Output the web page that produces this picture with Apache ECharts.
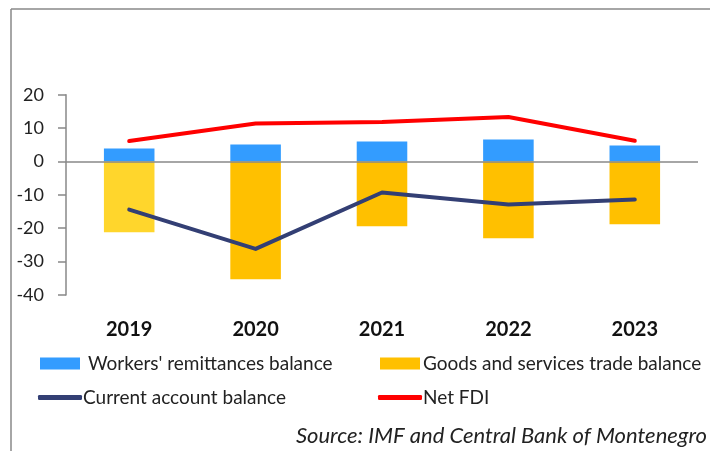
<!DOCTYPE html>
<html>
<head>
<meta charset="utf-8">
<script src="https://cdn.jsdelivr.net/npm/echarts@6/dist/echarts.min.js"></script>
<style>
  html, body { margin: 0; padding: 0; background: #fff; }
  #chart { width: 710px; height: 451px; }
</style>
</head>
<body>
<div id="chart"></div>
<script>
// values (% of GDP)
const years = ['2019', '2020', '2021', '2022', '2023']
const remittances = [3.9, 5.1, 6.0, 6.6, 4.8]
const goodsTrade = [-21.2, -35.3, -19.4, -23.0, -18.8]
const currentAccount = [-14.4, -26.2, -9.3, -12.9, -11.4]
const netFdi = [6.1, 11.4, 11.8, 13.3, 6.2]
const yTicks = { min: -40, max: 20, interval: 10 }

const font = 'Lato'
const chart = echarts.init(document.getElementById('chart'))

// first year's goods bar is a lighter yellow in the original
const goodsData = goodsTrade.map((v, i) => i === 0
  ? { value: v, itemStyle: { color: '#FFD62C' } }
  : v)

const legendBase = {
  orient: 'horizontal',
  padding: 0,
  itemGap: 0,
  textStyle: { fontFamily: font, fontSize: 19, color: '#222' }
}
const legendText = (pad) => Object.assign({}, legendBase.textStyle, { padding: pad })

const option = {
  animation: false,
  backgroundColor: '#fff',
  grid: { left: 66, right: 12, top: 94.7, bottom: 156 },
  xAxis: {
    type: 'category',
    data: years,
    axisLine: { show: false, onZero: false },
    axisTick: { show: false },
    axisLabel: { margin: 25, fontFamily: font, fontSize: 20, fontWeight: 'bold', color: '#111' }
  },
  yAxis: {
    type: 'value',
    min: yTicks.min,
    max: yTicks.max,
    interval: yTicks.interval,
    axisLine: { show: true, lineStyle: { color: '#888', width: 1.5 } },
    axisTick: { show: true, length: 8, lineStyle: { color: '#888', width: 1.5 } },
    axisLabel: { margin: 22, fontFamily: font, fontSize: 18, color: '#222' },
    splitLine: { show: false }
  },
  legend: [
    Object.assign({}, legendBase, {
      left: 40, top: 354, itemWidth: 40, itemHeight: 12,
      data: [{ name: "Workers' remittances balance", icon: 'rect' }],
      textStyle: legendText([14, 0, 0, 3])
    }),
    Object.assign({}, legendBase, {
      left: 380, top: 354, itemWidth: 40, itemHeight: 12,
      data: [{ name: 'Goods and services trade balance', icon: 'rect' }],
      textStyle: legendText([14, 0, 0, -2])
    }),
    Object.assign({}, legendBase, {
      left: 38, top: 388, itemWidth: 44, itemHeight: 5,
      data: [{ name: 'Current account balance', icon: 'roundRect' }],
      textStyle: legendText([16, 0, 0, -4])
    }),
    Object.assign({}, legendBase, {
      left: 378, top: 388, itemWidth: 44, itemHeight: 5,
      data: [{ name: 'Net FDI', icon: 'roundRect' }],
      textStyle: legendText([16, 0, 0, -4])
    })
  ],
  graphic: [
    // outer frame (top and left edges only)
    { type: 'line', shape: { x1: 11, y1: 9, x2: 710, y2: 9 }, style: { stroke: '#888', lineWidth: 1.5 } },
    { type: 'line', shape: { x1: 11, y1: 9, x2: 11, y2: 451 }, style: { stroke: '#888', lineWidth: 1.5 } },
    {
      type: 'text', right: 3, top: 425,
      style: { text: 'Source: IMF and Central Bank of Montenegro', fontFamily: font, fontSize: 22, fontStyle: 'italic', fill: '#222' }
    }
  ],
  series: [
    {
      name: "Workers' remittances balance",
      type: 'bar',
      stack: 'bal',
      barWidth: '40%',
      data: remittances,
      itemStyle: { color: '#339CFF' },
      markLine: {
        silent: true,
        symbol: 'none',
        label: { show: false },
        lineStyle: { color: '#888', width: 1.5, type: 'solid' },
        data: [{ yAxis: 0 }]
      }
    },
    {
      name: 'Goods and services trade balance',
      type: 'bar',
      stack: 'bal',
      barWidth: '40%',
      data: goodsData,
      itemStyle: { color: '#FFC000' }
    },
    {
      name: 'Current account balance',
      type: 'line',
      data: currentAccount,
      showSymbol: false,
      symbol: 'none',
      color: '#333F74',
      lineStyle: { color: '#333F74', width: 4, cap: 'round', join: 'round' },
      z: 5
    },
    {
      name: 'Net FDI',
      type: 'line',
      data: netFdi,
      showSymbol: false,
      symbol: 'none',
      color: '#FF0000',
      lineStyle: { color: '#FF0000', width: 4, cap: 'round', join: 'round' },
      z: 5
    }
  ]
}

chart.setOption(option)
</script>
</body>
</html>
